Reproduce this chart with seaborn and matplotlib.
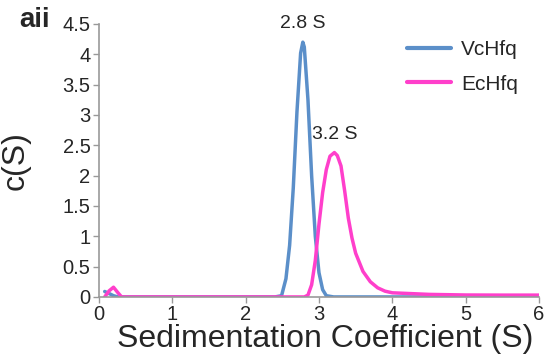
import numpy as np
import pandas as pd
import matplotlib
matplotlib.use("Agg")
import matplotlib.pyplot as plt
import seaborn as sns

# c(S) distributions
vc_s = [0.08, 0.15, 0.2, 0.26, 0.5, 1.0, 1.5, 2.0, 2.4, 2.49, 2.55, 2.6, 2.65, 2.7,
        2.75, 2.78, 2.8, 2.85, 2.9, 2.95, 3.0, 3.05, 3.1, 3.2, 4.0, 5.0, 6.0]
vc_c = [0.09, 0.05, 0.02, 0.0, 0.0, 0.0, 0.0, 0.0, 0.0, 0.02, 0.3, 0.85, 1.8, 3.05,
        4.02, 4.2, 4.12, 3.25, 2.0, 1.0, 0.4, 0.12, 0.02, 0.0, 0.0, 0.0, 0.0]

ec_s = [0.08, 0.14, 0.2, 0.26, 0.31, 0.5, 1.0, 1.5, 2.0, 2.5, 2.8, 2.85, 2.9, 2.95,
        3.0, 3.05, 3.1, 3.15, 3.21, 3.25, 3.3, 3.35, 3.4, 3.45, 3.5, 3.6, 3.7,
        3.8, 3.9, 4.0, 4.5, 5.0, 5.5, 6.0]
ec_c = [0.0, 0.1, 0.16, 0.07, 0.0, 0.0, 0.0, 0.0, 0.0, 0.0, 0.0, 0.03, 0.2, 0.6,
        1.2, 1.72, 2.1, 2.32, 2.38, 2.33, 2.16, 1.75, 1.3, 0.97, 0.72, 0.42, 0.25,
        0.15, 0.095, 0.068, 0.042, 0.032, 0.03, 0.03]

names = ["VcHfq", "EcHfq"]
colors = ["#5b8fc9", "#ff3fcb"]
peak_labels = ["2.8 S", "3.2 S"]

df = pd.concat([
    pd.DataFrame({"s": vc_s, "c": vc_c, "protein": names[0]}),
    pd.DataFrame({"s": ec_s, "c": ec_c, "protein": names[1]}),
], ignore_index=True)

sns.set_style("white")
plt.rcParams["font.family"] = ["Liberation Sans", "DejaVu Sans"]

fig = plt.figure(figsize=(5.49, 3.63), dpi=100)
ax = fig.add_axes([0.180, 0.182, 0.802, 0.752])

sns.lineplot(data=df, x="s", y="c", hue="protein", palette=dict(zip(names, colors)),
             linewidth=2.5, sort=False, ax=ax)

# peak annotations
ax.text(vc_s[vc_c.index(max(vc_c))], max(vc_c) + 0.17, peak_labels[0],
        ha="center", va="bottom", fontsize=14)
ax.text(ec_s[ec_c.index(max(ec_c))], max(ec_c) + 0.15, peak_labels[1],
        ha="center", va="bottom", fontsize=14)

ax.set_xlim(0, 6)
ax.set_ylim(0, 4.5)
ax.set_xticks(range(0, 7))
ax.set_yticks(np.arange(0, 4.6, 0.5))
ax.set_yticklabels(["0", "0.5", "1", "1.5", "2", "2.5", "3", "3.5", "4", "4.5"])
ax.tick_params(axis="both", labelsize=14.5, length=4, width=1, color="#999999",
               direction="out", bottom=True, left=True, pad=2)

for side in ["top", "right"]:
    ax.spines[side].set_visible(False)
for side in ["left", "bottom"]:
    ax.spines[side].set_color("#999999")
    ax.spines[side].set_linewidth(1.2)

ax.set_xlabel("Sedimentation Coefficient (S)", fontsize=23)
ax.set_ylabel("c(S)", fontsize=23)
ax.xaxis.set_label_coords(0.515, -0.1)
ax.yaxis.set_label_coords(-0.155, 0.5)

leg = ax.legend(loc="upper right", bbox_to_anchor=(0.995, 1.01), frameon=False,
                fontsize=15, handlelength=2.1, handletextpad=0.5, labelspacing=0.75)
for line in leg.get_lines():
    line.set_linewidth(3)

fig.text(0.035, 0.925, "aii", fontsize=20, fontweight="bold")

fig.savefig("out.png", dpi=100)
